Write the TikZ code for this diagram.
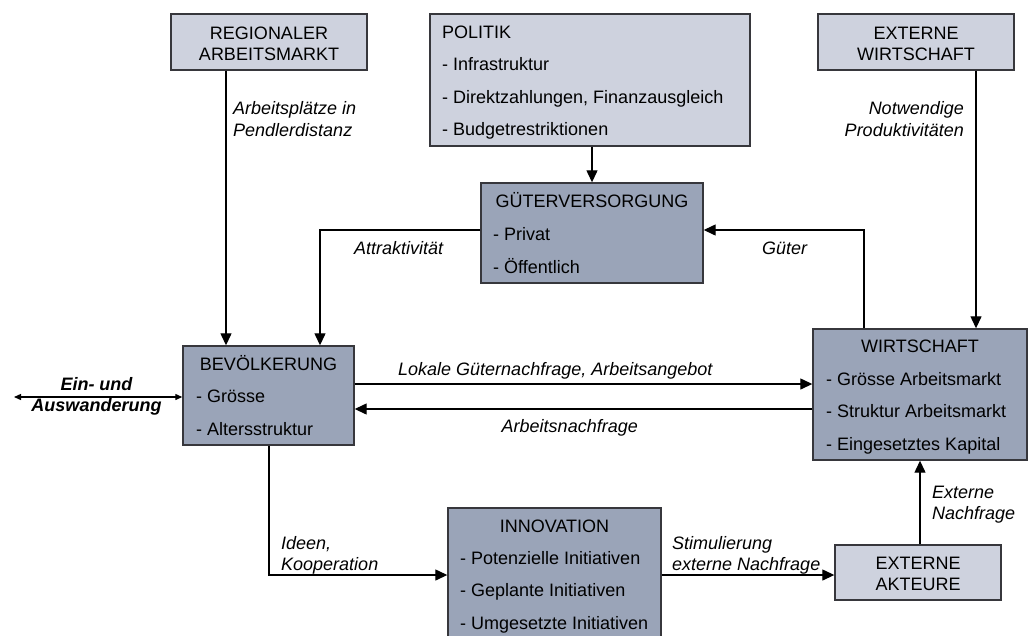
\documentclass[tikz,border=0pt]{standalone}
\usepackage{fontspec}
\setmainfont{Liberation Sans}
\usetikzlibrary{arrows.meta}
\definecolor{lightbox}{RGB}{206,210,222}
\definecolor{darkbox}{RGB}{154,164,184}
\definecolor{edge}{RGB}{55,55,60}
\tikzset{
  box/.style={draw=edge, line width=1.4pt, inner sep=0pt, rectangle},
  lbox/.style={box, fill=lightbox},
  dbox/.style={box, fill=darkbox},
  txt/.style={inner sep=0pt, font=\fontsize{18}{21}\selectfont},
  tl/.style={txt, anchor=base west},
  tc/.style={txt, anchor=base},
  lab/.style={txt, anchor=base west, font=\fontsize{18}{21}\selectfont\itshape},
  labr/.style={lab, anchor=base east},
  arr/.style={draw=black, line width=1.3pt, -{Triangle[length=12pt,width=11pt]}},
  sarr/.style={draw=black, line width=1.3pt, {Triangle[length=7pt,width=6pt]}-{Triangle[length=7pt,width=6pt]}}
}
\begin{document}
\begin{tikzpicture}[x=1pt,y=-1pt]
\useasboundingbox (0,0) rectangle (1032,635);
\begin{scope}
\clip (0,0) rectangle (1032,635);
% boxes
\node[lbox, minimum width=196pt, minimum height=56pt] (reg) at (269,42) {};
\node[lbox, minimum width=320pt, minimum height=132pt] (pol) at (590,80) {};
\node[lbox, minimum width=196pt, minimum height=56pt] (extw) at (916,42) {};
\node[dbox, minimum width=222pt, minimum height=100pt] (gut) at (592,233) {};
\node[dbox, minimum width=171pt, minimum height=99pt] (bev) at (268.5,395.5) {};
\node[dbox, minimum width=214pt, minimum height=131pt] (wirt) at (920,394.5) {};
\node[dbox, minimum width=213pt, minimum height=132pt] (inn) at (554.5,574) {};
\node[lbox, minimum width=166pt, minimum height=55pt] (exta) at (918,572.5) {};
\end{scope}
% box texts
\node[tc] (regA) at (269,39.5) {REGIONALER};
\node[tc] (regB) at (269,60.5) {ARBEITSMARKT};
\node[tc] (extwA) at (916,39.5) {EXTERNE};
\node[tc] (extwB) at (916,60.5) {WIRTSCHAFT};
\node[tc] (extaA) at (918,569) {EXTERNE};
\node[tc] (extaB) at (918,590) {AKTEURE};
\node[tl] (polA) at (442,38) {POLITIK};
\node[tl] (polB) at (442,70.5) {- Infrastruktur};
\node[tl] (polC) at (442,103) {- Direktzahlungen, Finanzausgleich};
\node[tl] (polD) at (442,135.5) {- Budgetrestriktionen};
\node[tc] (gutA) at (592,207.5) {GÜTERVERSORGUNG};
\node[tl] (gutB) at (493,240.5) {- Privat};
\node[tl] (gutC) at (493,273) {- Öffentlich};
\node[tc] (bevA) at (268.5,370) {BEVÖLKERUNG};
\node[tl] (bevB) at (196,402.5) {- Grösse};
\node[tl] (bevC) at (196,435) {- Altersstruktur};
\node[tc] (wirtA) at (920,352.5) {WIRTSCHAFT};
\node[tl] (wirtB) at (826,385) {- Grösse Arbeitsmarkt};
\node[tl] (wirtC) at (826,417.5) {- Struktur Arbeitsmarkt};
\node[tl] (wirtD) at (826,450) {- Eingesetztes Kapital};
\node[tc] (innA) at (554.5,532) {INNOVATION};
\node[tl] (innB) at (460,564) {- Potenzielle Initiativen};
\node[tl] (innC) at (460,596.5) {- Geplante Initiativen};
\node[tl] (innD) at (460,629) {- Umgesetzte Initiativen};
% helper coordinates
\coordinate (xreg) at (226,0);
\coordinate (xextw) at (976,0);
\coordinate (bendA) at (320,230);
\coordinate (bendG) at (864,230);
\coordinate (yloc) at (0,384);
\coordinate (yarb) at (0,409);
\coordinate (emig) at (14,397);
\coordinate (bendI) at (269,575);
\coordinate (xexta) at (920,0);
% connectors
\draw[arr] (reg.south -| xreg) -- (bev.north -| xreg);
\draw[arr] (pol.south -| gut.north) -- (gut.north);
\draw[arr] (extw.south -| xextw) -- (wirt.north -| xextw);
\draw[arr] (gut.west |- bendA) -- (bendA) -- (bev.north -| bendA);
\draw[arr] (wirt.north -| bendG) -- (bendG) -- (gut.east |- bendG);
\draw[arr] (bev.east |- yloc) -- (wirt.west |- yloc);
\draw[arr] (wirt.west |- yarb) -- (bev.east |- yarb);
\draw[sarr] (emig) -- (bev.west |- emig);
\draw[arr] (bev.south -| bendI) -- (bendI) -- (inn.west |- bendI);
\draw[arr] (inn.east |- bendI) -- (exta.west |- bendI);
\draw[arr] (exta.north -| xexta) -- (wirt.south -| xexta);
% labels
\node[lab] (l1a) at (233,114.5) {Arbeitsplätze in};
\node[lab] (l1b) at (233,136) {Pendlerdistanz};
\node[labr] (l2a) at (964,114.5) {Notwendige};
\node[labr] (l2b) at (964,136) {Produktivitäten};
\node[lab] (l3) at (354,254.5) {Attraktivität};
\node[lab] (l4) at (762,254.5) {Güter};
\node[lab] (l5) at (398,375.5) {Lokale Güternachfrage, Arbeitsangebot};
\node[labr] (l6) at (638,432.5) {Arbeitsnachfrage};
\node[tc, font=\fontsize{18}{21}\selectfont\bfseries\itshape] (l7a) at (96.5,390) {Ein- und};
\node[tc, font=\fontsize{18}{21}\selectfont\bfseries\itshape] (l7b) at (96.5,411.5) {Auswanderung};
\node[lab] (l8a) at (281,549) {Ideen,};
\node[lab] (l8b) at (281,570) {Kooperation};
\node[lab] (l9a) at (672,549) {Stimulierung};
\node[lab] (l9b) at (672,570) {externe Nachfrage};
\node[lab] (l10a) at (932,498.5) {Externe};
\node[lab] (l10b) at (932,519.5) {Nachfrage};
\end{tikzpicture}
\end{document}
